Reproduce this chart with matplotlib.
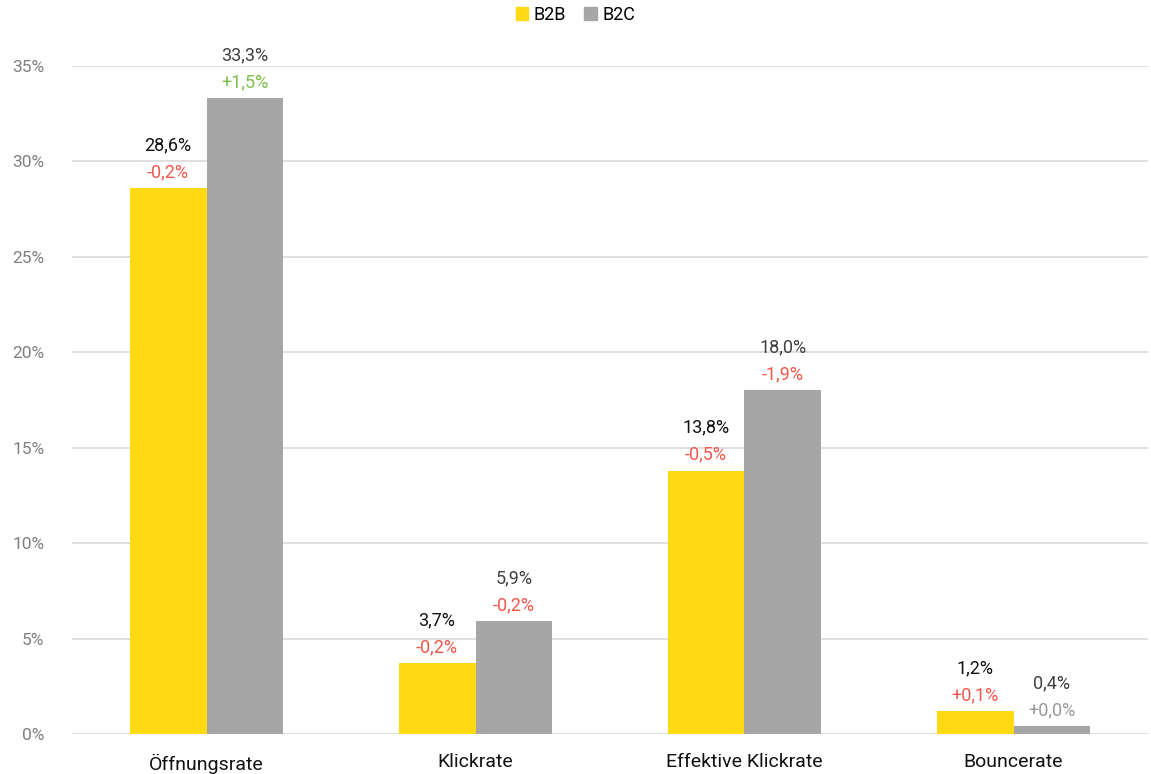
import numpy as np
import matplotlib.pyplot as plt
from matplotlib.patches import Patch

plt.rcParams['font.family'] = ['Roboto', 'DejaVu Sans']

categories = ['Öffnungsrate', 'Klickrate', 'Effektive Klickrate', 'Bouncerate']
b2b = [28.6, 3.7, 13.8, 1.2]
b2c = [33.3, 5.9, 18.0, 0.4]
b2b_delta = ['-0,2%', '-0,2%', '-0,5%', '+0,1%']
b2c_delta = ['+1,5%', '-0,2%', '-1,9%', '+0,0%']

yellow = '#FFD914'
grey = '#A6A6A6'
red = '#F0584B'
green = '#7CBF4A'

def delta_color(s):
    if s == '+0,0%':
        return '#999999'
    if s == '+1,5%':
        return green
    return red

fig = plt.figure(figsize=(11.51, 7.74), dpi=100)
ax = fig.add_axes([72 / 1151, 1 - 734 / 774, 1076 / 1151, 668 / 774])

x = np.arange(len(categories))
w = 0.286
bars1 = ax.bar(x - w / 2, b2b, w, color=yellow)
bars2 = ax.bar(x + w / 2, b2c, w, color=grey)

ax.set_xlim(-0.5, len(categories) - 0.5)
ax.set_ylim(0, 35)
ax.set_yticks(range(0, 36, 5))
ax.set_yticklabels([f'{t}%' for t in range(0, 36, 5)])
ax.yaxis.grid(True, color='#D9D9D9', linewidth=1.2)
ax.set_axisbelow(True)
for s in ax.spines.values():
    s.set_visible(False)
ax.tick_params(axis='y', length=0, pad=20, labelsize=12.5, labelcolor='#7F7F7F')
ax.tick_params(axis='x', length=0, pad=14, labelsize=14, labelcolor='#111111')
ax.set_xticks(x)
ax.set_xticklabels(categories)

for xi, v, d in zip(x - w / 2, b2b, b2b_delta):
    ax.annotate(f'{v:.1f}%'.replace('.', ','), (xi, v), xytext=(0, 43), textcoords='offset pixels',
                ha='center', va='center', fontsize=13, color='#111111')
    ax.annotate(d, (xi, v), xytext=(0, 16), textcoords='offset pixels',
                ha='center', va='center', fontsize=13, color=delta_color(d))
for xi, v, d in zip(x + w / 2, b2c, b2c_delta):
    ax.annotate(f'{v:.1f}%'.replace('.', ','), (xi, v), xytext=(0, 43), textcoords='offset pixels',
                ha='center', va='center', fontsize=13, color='#404040')
    ax.annotate(d, (xi, v), xytext=(0, 16), textcoords='offset pixels',
                ha='center', va='center', fontsize=13, color=delta_color(d))

handles = [Patch(color=yellow, label='B2B'), Patch(color=grey, label='B2C')]
fig.legend(handles=handles, loc='center', bbox_to_anchor=(0.5, 1 - 15 / 774), ncol=2,
           frameon=False, fontsize=13, handlelength=0.7, handleheight=0.7,
           handletextpad=0.3, columnspacing=1.0)

fig.savefig('out.png', dpi=100)
